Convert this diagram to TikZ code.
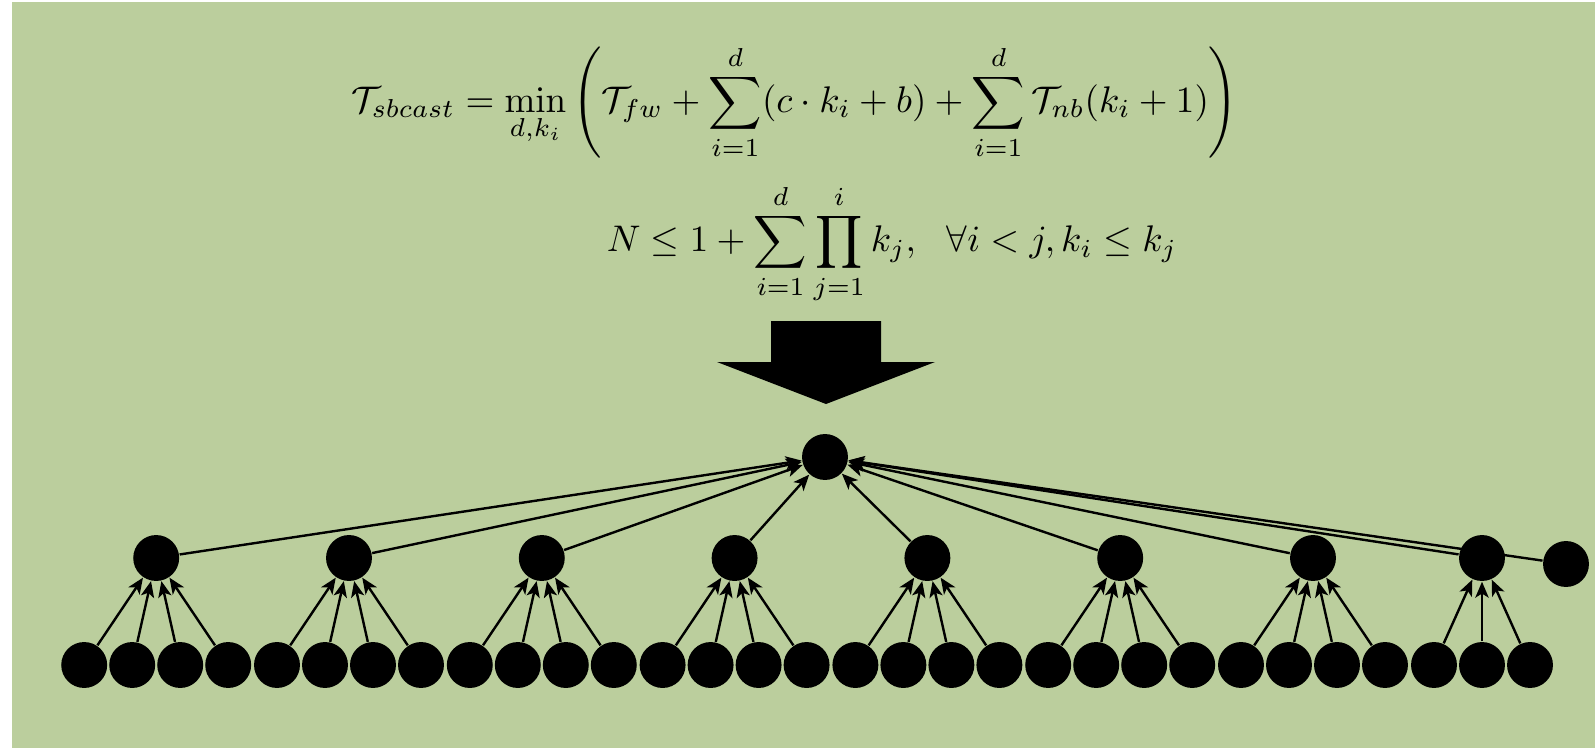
\documentclass[tikz,border=0pt]{standalone}
\usepackage{amsmath}
\usepackage{amssymb}
\usepackage{tikz}
\usetikzlibrary{arrows.meta}

\definecolor{bggreen}{RGB}{187,206,157}

\tikzset{
  dot/.style={circle, fill=black, inner sep=0pt, minimum size=12.4pt},
  edge/.style={line width=0.65pt, -{Stealth[length=4.3pt, width=3.6pt, inset=1.1pt]}}
}

\begin{document}
\begin{tikzpicture}[x=0.27pt, y=-0.27pt]
  % background
  \useasboundingbox (0,0) rectangle (1595,748);
  \fill[white] (0,0) rectangle (1595,748);
  \fill[bggreen] (12,2) rectangle (1595,748);

  % cost model
  \node (cost) at (795,102)
    {$\displaystyle \mathcal{T}_{sbcast} = \min_{d,k_i}\left(\mathcal{T}_{fw} + \sum_{i=1}^{d}(c\cdot k_i + b) + \sum_{i=1}^{d}\mathcal{T}_{nb}(k_i+1)\right)$};
  \node (cond) at (892,244)
    {$\displaystyle N \le 1 + \sum_{i=1}^{d}\prod_{j=1}^{i} k_j,\ \ \forall i<j, k_i \le k_j$};

  % big arrow
  \fill[black] (771,321) -- (881,321) -- (881,362) -- (935,362) -- (826,404)
    -- (717,362) -- (771,362) -- cycle;

  % tree
  \node[dot] (root) at (825,457) {};
  \foreach \g in {1,...,7} {
    \pgfmathsetmacro\gx{84.2+192.8*(\g-1)}
    \node[dot] (m\g) at (\gx+72,558) {};
    \foreach \l in {1,...,4} {
      \node[dot] (l\g-\l) at (\gx+48*\l-48,665) {};
      \draw[edge] (l\g-\l) -- (m\g);
    }
    \draw[edge] (m\g) -- (root);
  }
  % last group, three leaves
  \node[dot] (m8) at (1482,558) {};
  \foreach \l in {1,2,3} {
    \node[dot] (l8-\l) at (1386+48*\l,665) {};
    \draw[edge] (l8-\l) -- (m8);
  }
  \draw[edge] (m8) -- (root);
  \node[dot] (spare) at (1566,564) {};
  \draw[edge] (spare) -- (root);
\end{tikzpicture}
\end{document}
